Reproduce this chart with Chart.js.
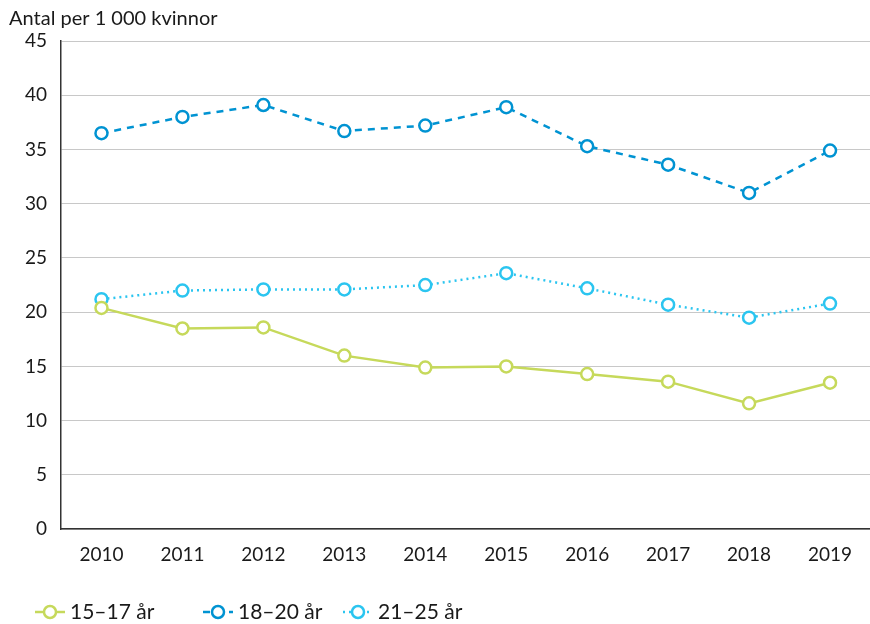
<!DOCTYPE html>
<html>
<head>
<meta charset="utf-8">
<script src="https://cdn.jsdelivr.net/npm/chart.js@4"></script>
<style>
  html, body { margin: 0; padding: 0; background: #fff; overflow: hidden; }
  #wrap { width: 879px; height: 624px; position: relative; }
</style>
</head>
<body>
<div id="wrap"><canvas id="chartKvinnor"></canvas></div>
<script>
// ============ DATA ============
const YEARS = ['2010','2011','2012','2013','2014','2015','2016','2017','2018','2019'];
const SERIES_LABELS = ['15–17 år', '18–20 år', '21–25 år'];
const VALUES_15_17 = [20.4, 18.5, 18.6, 16.0, 14.9, 15.0, 14.3, 13.6, 11.6, 13.5];
const VALUES_18_20 = [36.5, 38.0, 39.1, 36.7, 37.2, 38.9, 35.3, 33.6, 31.0, 34.9];
const VALUES_21_25 = [21.2, 22.0, 22.1, 22.1, 22.5, 23.6, 22.2, 20.7, 19.5, 20.8];
const Y_TITLE = 'Antal per 1 000 kvinnor';

const COLORS = ['#c6d95b', '#0093d2', '#2bc5f0'];
const DASHES = [[], [7, 6], [2, 4]];
const FONT = "'Lato', 'DejaVu Sans', sans-serif";

function mkDataset(i, data) {
    return {
        label: SERIES_LABELS[i],
        data: data,
        borderColor: COLORS[i],
        backgroundColor: '#fff',
        borderWidth: 2.5,
        borderDash: DASHES[i],
        pointRadius: 6,
        pointHoverRadius: 6,
        pointBorderWidth: 2.5,
        pointBackgroundColor: '#fff',
        pointBorderColor: COLORS[i],
        tension: 0
    };
}

// titel uppe till vänster + egen legend längst ned
const extrasPlugin = {
    id: 'extras',
    afterDraw(chart) {
        const ctx = chart.ctx;
        ctx.save();
        ctx.fillStyle = '#1a1a1a';
        ctx.font = '20px ' + FONT;
        ctx.textBaseline = 'middle';
        ctx.textAlign = 'left';
        ctx.fillText(Y_TITLE, 9, 19);

        ctx.font = '21px ' + FONT;
        const xs = [35, 203, 343];
        const y = 612;
        chart.data.datasets.forEach((ds, i) => {
            const x0 = xs[i];
            ctx.strokeStyle = ds.borderColor;
            ctx.lineWidth = 2.5;
            ctx.setLineDash(ds.borderDash);
            ctx.beginPath();
            ctx.moveTo(x0, y);
            ctx.lineTo(x0 + 30, y);
            ctx.stroke();
            ctx.setLineDash([]);
            ctx.beginPath();
            ctx.arc(x0 + 15, y, 6, 0, Math.PI * 2);
            ctx.fillStyle = '#fff';
            ctx.fill();
            ctx.stroke();
            ctx.fillStyle = '#1a1a1a';
            ctx.fillText(ds.label, x0 + 35, y);
        });
        ctx.restore();
    }
};

new Chart(document.getElementById('chartKvinnor'), {
    type: 'line',
    data: {
        labels: YEARS,
        datasets: [
            mkDataset(0, VALUES_15_17),
            mkDataset(1, VALUES_18_20),
            mkDataset(2, VALUES_21_25)
        ]
    },
    options: {
        responsive: true,
        maintainAspectRatio: false,
        animation: false,
        layout: { padding: { top: 41, right: 0, bottom: 44, left: 0 } },
        plugins: {
            legend: { display: false },
            tooltip: { enabled: false }
        },
        scales: {
            x: {
                offset: true,
                grid: { display: false, drawTicks: false },
                border: { color: '#333', width: 1.5 },
                ticks: { color: '#1a1a1a', font: { family: FONT, size: 19 }, padding: 14 }
            },
            y: {
                min: 0,
                max: 45,
                afterFit(scale) { scale.width = 61; },
                grid: { color: '#c8c8c8', lineWidth: 1, drawTicks: false },
                border: { color: '#333', width: 1.5 },
                ticks: { stepSize: 5, color: '#1a1a1a', font: { family: FONT, size: 19 }, padding: 14 }
            }
        }
    },
    plugins: [extrasPlugin]
});
</script>
</body>
</html>
